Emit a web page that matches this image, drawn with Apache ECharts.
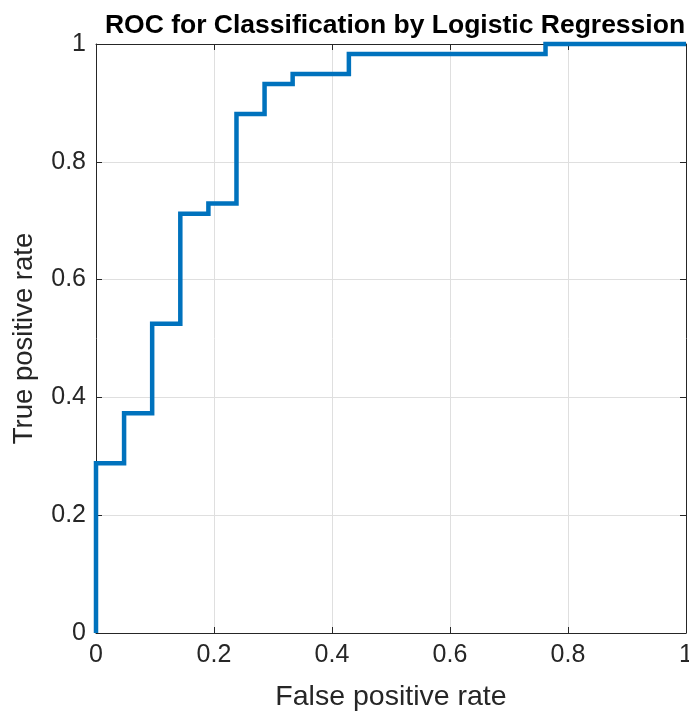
<!DOCTYPE html>
<html><head><meta charset="utf-8">
<script src="https://cdn.jsdelivr.net/npm/echarts@6/dist/echarts.min.js"></script>
<style>html,body{margin:0;padding:0;background:#fff}#c{width:689px;height:715px}</style>
</head><body><div id="c"></div>
<script>
const titleText = 'ROC for Classification by Logistic Regression';
const xName = 'False positive rate';
const yName = 'True positive rate';
const fpr = [0, 0, 0.0476, 0.0476, 0.0952, 0.0952, 0.1429, 0.1429, 0.1905, 0.1905, 0.2381, 0.2381, 0.2857, 0.2857, 0.3333, 0.3333, 0.4286, 0.4286, 0.7619, 0.7619, 1];
const tpr = [0, 0.288, 0.288, 0.373, 0.373, 0.525, 0.525, 0.712, 0.712, 0.729, 0.729, 0.881, 0.881, 0.932, 0.932, 0.949, 0.949, 0.983, 0.983, 1, 1];

const chart = echarts.init(document.getElementById('c'), null, {renderer: 'canvas'});
const ff = 'Liberation Sans, Arial, sans-serif';
const axisCommon = (pos, showLabel) => ({
  type: 'value', min: 0, max: 1, interval: 0.2, position: pos,
  axisLine: {show: true, onZero: false, lineStyle: {color: '#262626', width: 1}},
  axisTick: {show: true, inside: true, length: 6, lineStyle: {color: '#262626'}},
  axisLabel: {show: showLabel, color: '#262626', fontSize: 25, fontFamily: ff, margin: 10,
    formatter: v => String(+v.toFixed(1))},
  splitLine: {show: showLabel, lineStyle: {color: '#dfdfdf', width: 1}}
});
const xa = axisCommon('bottom', true);
xa.name = xName; xa.nameLocation = 'middle'; xa.nameGap = 50;
xa.nameTextStyle = {color: '#262626', fontSize: 28.5, fontFamily: ff};
const ya = axisCommon('left', true);
ya.name = yName; ya.nameLocation = 'middle'; ya.nameGap = 58;
ya.nameTextStyle = {color: '#262626', fontSize: 27.5, fontFamily: ff};
const xa2 = axisCommon('top', false);
const ya2 = axisCommon('right', false);

chart.setOption({
  animation: false,
  backgroundColor: '#fff',
  title: {text: titleText, left: 390, textAlign: 'center', top: 7,
    textStyle: {fontSize: 26.5, fontWeight: 'bold', color: '#000', fontFamily: ff}},
  grid: {left: 96, top: 44, width: 590, height: 589, show: false, outerBoundsMode: 'none', containLabel: false},
  xAxis: [xa, xa2],
  yAxis: [ya, ya2],
  series: [{
    type: 'line', xAxisIndex: 0, yAxisIndex: 0,
    data: fpr.map((x, i) => [x, tpr[i]]),
    showSymbol: false, symbol: 'none',
    lineStyle: {color: '#0072BD', width: 4.5, join: 'miter'},
    clip: false
  }]
});
</script></body></html>
